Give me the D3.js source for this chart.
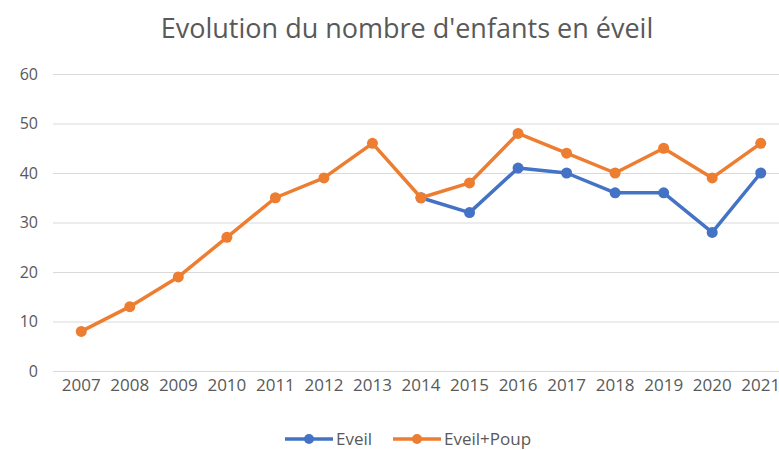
<!DOCTYPE html>
<html>
<head>
<meta charset="utf-8">
<script src="https://cdn.jsdelivr.net/npm/d3@7"></script>
<style>
  body { margin: 0; background: #fff; }
  text { font-family: "Open Sans", sans-serif; fill: #595959; }
</style>
</head>
<body>
<svg id="chart" width="779" height="450"></svg>
<script>
const years = ["2007","2008","2009","2010","2011","2012","2013","2014","2015","2016","2017","2018","2019","2020","2021"];
const eveil = [null,null,null,null,null,null,null,35,32,41,40,36,36,28,40];
const eveilPoup = [8,13,19,27,35,39,46,35,38,48,44,40,45,39,46];
const yTicks = [0,10,20,30,40,50,60];

const seriesList = [
    {name: "Eveil", values: eveil, color: "#4472C4"},
    {name: "Eveil+Poup", values: eveilPoup, color: "#ED7D31"}
];

const svg = d3.select("#chart");

const xScale = d3.scaleBand().domain(years).range([57, 785]);
const yScale = d3.scaleLinear().domain([0, 60]).range([371, 74]);

svg.append("text")
    .attr("x", 407)
    .attr("y", 38)
    .attr("text-anchor", "middle")
    .style("font-size", "27px")
    .text("Evolution du nombre d'enfants en éveil");

// grid + y labels
const yAxis = svg.append("g")
    .attr("transform", "translate(53,0)")
    .call(d3.axisLeft(yScale).tickValues(yTicks).tickSize(-740).tickPadding(15));
yAxis.select(".domain").remove();
yAxis.selectAll(".tick line").attr("stroke", "#d9d9d9");
yAxis.selectAll(".tick text").style("font-size", "16px").attr("fill", "#595959");

// x labels
const xAxis = svg.append("g")
    .attr("transform", "translate(0,371)")
    .call(d3.axisBottom(xScale).tickSize(0).tickPadding(8));
xAxis.select(".domain").remove();
xAxis.selectAll(".tick text").style("font-size", "17px").attr("fill", "#595959");

const line = d3.line()
    .defined(function (d) { return d != null; })
    .x(function (d, i) { return xScale(years[i]) + xScale.bandwidth() / 2; })
    .y(function (d) { return yScale(d); });

seriesList.forEach(function (s) {
    svg.append("path")
        .datum(s.values)
        .attr("fill", "none")
        .attr("stroke", s.color)
        .attr("stroke-width", 3.5)
        .attr("stroke-linejoin", "round")
        .attr("d", line);

    svg.append("g")
        .selectAll("circle")
        .data(s.values.map(function (v, i) { return {v: v, year: years[i]}; }).filter(function (d) { return d.v != null; }))
        .join("circle")
        .attr("cx", function (d) { return xScale(d.year) + xScale.bandwidth() / 2; })
        .attr("cy", function (d) { return yScale(d.v); })
        .attr("r", 5.5)
        .attr("fill", s.color);
});

// legend
const legendX = [285, 393];
seriesList.forEach(function (s, i) {
    const g = svg.append("g").attr("transform", "translate(" + legendX[i] + ",439)");
    g.append("line").attr("x1", 0).attr("x2", 48).attr("stroke", s.color).attr("stroke-width", 3.5);
    g.append("circle").attr("cx", 24).attr("r", 5).attr("fill", s.color);
    g.append("text").attr("x", 51).attr("y", 6).style("font-size", "17px").text(s.name);
});
</script>
</body>
</html>
